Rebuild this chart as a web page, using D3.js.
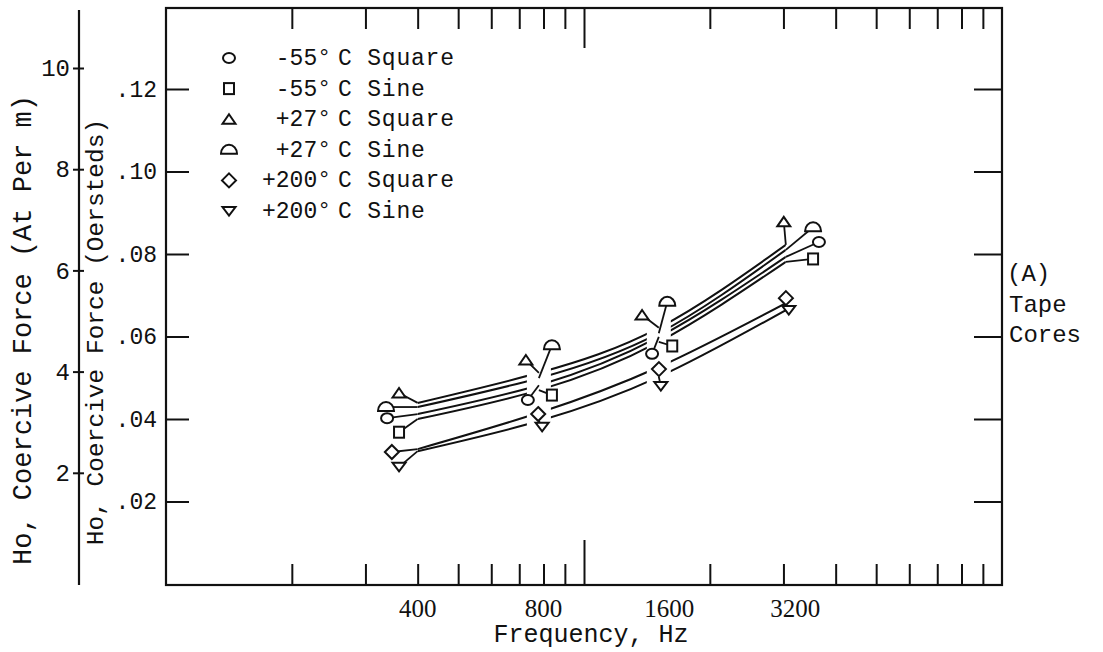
<!DOCTYPE html>
<html>
<head>
<script src="https://d3js.org/d3.v7.min.js"></script>
<style>
  body { margin: 0; background: #fff; }
  .mono { font-family: "Liberation Mono", "DejaVu Sans Mono", monospace; fill: #111; }
  .serif { font-family: "Liberation Serif", serif; fill: #111; }
  .axis line { stroke: #111; stroke-width: 2; }
  .axis .domain { stroke: none; }
  .axis text { font-family: "Liberation Mono", monospace; fill: #111; }
</style>
</head>
<body>
<svg id="chart" width="1103" height="652"></svg>
<script>
// test frequencies as plotted (Hz)
const freqs = [400, 780, 1510, 3040];
const freqLabels = [400, 800, 1600, 3200];

// fitted curves, Oersteds at each test frequency
const m55SquareCurve = [0.0412, 0.0482, 0.0599, 0.0793];
const m55SineCurve   = [0.0400, 0.0470, 0.0587, 0.0781];
const p27SquareCurve = [0.0439, 0.0512, 0.0621, 0.0822];
const p27SineCurve   = [0.0429, 0.0499, 0.0608, 0.0810];
const p200SquareCurve = [0.0327, 0.0415, 0.0526, 0.0681];
const p200SineCurve   = [0.0322, 0.0395, 0.0502, 0.0664];

// measured points (symbols), freq and Oersteds
const m55SquareF = [338, 734, 1455, 3648];
const m55SquareV = [0.0402, 0.0446, 0.0558, 0.0829];
const m55SineF = [361, 838, 1626, 3532];
const m55SineV = [0.0368, 0.0458, 0.0577, 0.0788];
const p27SquareF = [361, 726, 1377, 3006];
const p27SquareV = [0.0463, 0.0543, 0.0652, 0.0878];
const p27SineF = [336, 838, 1582, 3532];
const p27SineV = [0.0429, 0.0579, 0.0684, 0.0865];
const p200SquareF = [347, 777, 1511, 3041];
const p200SquareV = [0.0320, 0.0412, 0.0521, 0.0693];
const p200SineF = [361, 794, 1527, 3090];
const p200SineV = [0.0284, 0.0381, 0.0480, 0.0664];

const legendTemps = ["-55°", "-55°", "+27°", "+27°", "+200°", "+200°"];
const legendWaves = ["C Square", "C Sine", "C Square", "C Sine", "C Square", "C Sine"];
const shapes = ["circle", "square", "triangle", "dome", "diamond", "triDown"];

const oeTicks = [0.02, 0.04, 0.06, 0.08, 0.10, 0.12];
const amTicks = [2, 4, 6, 8, 10];

const series = [
  { curve: m55SquareCurve, f: m55SquareF, v: m55SquareV },
  { curve: m55SineCurve, f: m55SineF, v: m55SineV },
  { curve: p27SquareCurve, f: p27SquareF, v: p27SquareV },
  { curve: p27SineCurve, f: p27SineF, v: p27SineV },
  { curve: p200SquareCurve, f: p200SquareF, v: p200SquareV },
  { curve: p200SineCurve, f: p200SineF, v: p200SineV }
].map((s, i) => ({ ...s, temp: legendTemps[i], wave: legendWaves[i], shape: shapes[i] }));

const svg = d3.select("#chart");
const box = { left: 166, right: 1002, top: 8, bottom: 585 };

const x = d3.scaleLog().domain([100, 10000]).range([box.left, box.right]);
const y = d3.scaleLinear().domain([0.02, 0.12]).range([501.5, 89]);
const yAm = d3.scaleLinear().domain([0, 10]).range([574, 68]);

// symbol shapes
function drawSymbol(g, shape) {
  const st = sel => sel.attr("fill", "#fff").attr("stroke", "#111").attr("stroke-width", 2);
  if (shape === "circle") st(g.append("ellipse").attr("rx", 6).attr("ry", 5));
  else if (shape === "square") st(g.append("rect").attr("x", -5).attr("y", -5.5).attr("width", 10).attr("height", 11));
  else if (shape === "triangle") st(g.append("path").attr("d", "M0,-5L6.5,4.5L-6.5,4.5Z"));
  else if (shape === "dome") st(g.append("path").attr("d", "M-8,4A8,9 0 0 1 8,4Z"));
  else if (shape === "diamond") st(g.append("path").attr("d", "M0,-7L7,0L0,7L-7,0Z"));
  else if (shape === "triDown") st(g.append("path").attr("d", "M-6.5,-4L6.5,-4L0,4.5Z"));
}

// outer axis (At per m)
svg.append("line")
  .attr("x1", 79).attr("x2", 79).attr("y1", 10).attr("y2", box.bottom)
  .attr("stroke", "#111").attr("stroke-width", 2.2);
const amAxis = svg.append("g").attr("class", "axis")
  .attr("transform", "translate(79,0)")
  .call(d3.axisLeft(yAm).tickValues(amTicks).tickSize(6).tickPadding(3));
amAxis.selectAll(".tick line").attr("x1", 5);
amAxis.selectAll("text").style("font-size", "24px");

// frame
svg.append("rect")
  .attr("x", box.left).attr("y", box.top)
  .attr("width", box.right - box.left).attr("height", box.bottom - box.top)
  .attr("fill", "none").attr("stroke", "#111").attr("stroke-width", 2.2);

// Oersted axis on left of frame, ticks inward
const oeAxis = svg.append("g").attr("class", "axis")
  .attr("transform", `translate(${box.left},0)`)
  .call(d3.axisLeft(y).tickValues(oeTicks).tickSize(-23).tickPadding(9)
    .tickFormat(d => d3.format(".2f")(d).replace(/^0/, "")));
oeAxis.selectAll("text").style("font-size", "23px");

// right side ticks
svg.append("g").attr("class", "axis")
  .attr("transform", `translate(${box.right},0)`)
  .call(d3.axisRight(y).tickValues(oeTicks).tickSize(-28).tickFormat(""));

// log grid ticks, bottom and top
const minor = x.ticks().filter(d => ![100, 1000, 10000].includes(d));
svg.append("g").attr("class", "axis")
  .attr("transform", `translate(0,${box.bottom})`)
  .call(d3.axisBottom(x).tickValues(minor).tickSize(-21).tickFormat(""));
svg.append("g").attr("class", "axis")
  .attr("transform", `translate(0,${box.bottom})`)
  .call(d3.axisBottom(x).tickValues([1000]).tickSize(-45).tickFormat(""));
svg.append("g").attr("class", "axis")
  .attr("transform", `translate(0,${box.top})`)
  .call(d3.axisTop(x).tickValues(minor).tickSize(-21).tickFormat(""));
svg.append("g").attr("class", "axis")
  .attr("transform", `translate(0,${box.top})`)
  .call(d3.axisTop(x).tickValues([1000]).tickSize(-40).tickFormat(""));

// frequency labels
svg.selectAll("text.flab")
  .data(freqLabels)
  .join("text")
  .attr("class", "flab serif")
  .attr("x", d => x(d))
  .attr("y", 617)
  .attr("text-anchor", "middle")
  .style("font-size", "25px")
  .text(d => d);

// axis titles
svg.append("text").attr("class", "mono")
  .attr("transform", "translate(31,330) rotate(-90)")
  .attr("text-anchor", "middle").style("font-size", "27px")
  .text("Ho, Coercive Force (At Per m)");
svg.append("text").attr("class", "mono")
  .attr("transform", "translate(103,332) rotate(-90)")
  .attr("text-anchor", "middle").style("font-size", "24.5px")
  .text("Ho, Coercive Force (Oersteds)");
svg.append("text").attr("class", "mono")
  .attr("x", 591).attr("y", 642)
  .attr("text-anchor", "middle").style("font-size", "25px")
  .text("Frequency, Hz");

const side = svg.append("g").attr("class", "mono").style("font-size", "24px");
side.append("text").attr("x", 1007).attr("y", 281).text("(A)");
side.append("text").attr("x", 1009).attr("y", 312).text("Tape");
side.append("text").attr("x", 1009).attr("y", 342).text("Cores");

// curves, broken near the test points
const gap = 12;
const clip = svg.append("clipPath").attr("id", "gaps");
d3.pairs(freqs).forEach(([a, b], i) => {
  const x0 = x(a) + (i === 0 ? 0 : gap);
  const x1 = x(b) - (i === freqs.length - 2 ? 0 : gap);
  clip.append("rect").attr("x", x0).attr("y", 0).attr("width", x1 - x0).attr("height", 652);
});

const line = d3.line()
  .x((d, i) => x(freqs[i]))
  .y(d => y(d))
  .curve(d3.curveNatural);

svg.append("g").attr("clip-path", "url(#gaps)")
  .selectAll("path")
  .data(series)
  .join("path")
  .attr("d", d => line(d.curve))
  .attr("fill", "none")
  .attr("stroke", "#111")
  .attr("stroke-width", 2);

// leader lines from symbol to curve
series.forEach(s => {
  svg.append("g").selectAll("line")
    .data(s.f)
    .join("line")
    .attr("x1", (d, i) => x(d))
    .attr("y1", (d, i) => y(s.v[i]))
    .attr("x2", (d, i) => x(freqs[i]))
    .attr("y2", (d, i) => y(s.curve[i]))
    .attr("stroke", "#111")
    .attr("stroke-width", 1.8);
});

// symbols
series.forEach(s => {
  s.f.forEach((f, i) => {
    const g = svg.append("g").attr("transform", `translate(${x(f)},${y(s.v[i])})`);
    drawSymbol(g, s.shape);
  });
});

// legend
const legend = svg.append("g");
series.forEach((s, i) => {
  const by = 65 + i * 30.6;
  const g = legend.append("g").attr("transform", `translate(229,${by - 7})`);
  drawSymbol(g, s.shape);
  legend.append("text").attr("class", "mono")
    .attr("x", 331).attr("y", by)
    .attr("text-anchor", "end")
    .style("font-size", "23px")
    .text(s.temp);
  legend.append("text").attr("class", "mono")
    .attr("x", 338).attr("y", by)
    .style("font-size", "23px")
    .style("letter-spacing", "0.8px")
    .text(s.wave);
});
</script>
</body>
</html>
